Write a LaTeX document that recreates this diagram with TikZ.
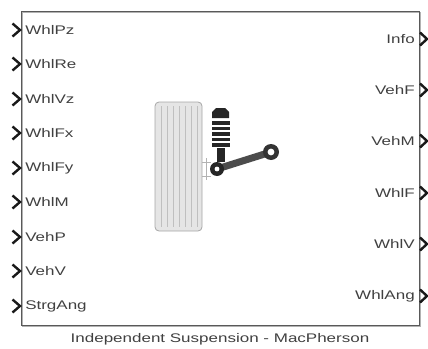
\documentclass[tikz,border=0pt]{standalone}
\usepackage{fontspec}
\setmainfont{Liberation Sans}
\usepackage{xcolor}

\tikzset{
  port/.style={font=\fontsize{12.5}{14}\selectfont, text=black!75, inner sep=0pt, xscale=1.36},
  chev/.style={line width=2.4pt, black!90, line join=miter},
  groove/.style={gray!50, line width=0.5pt}
}

\begin{document}
\begin{tikzpicture}[x=1pt, y=-1pt]
  \useasboundingbox (0,0) rectangle (428,348);
  % Block with shadow
  \draw[gray!60, line width=1.2pt] (22.5,12.5) rectangle (420.5,326.5);
  \node[draw=black!65, line width=1pt, minimum width=398pt, minimum height=314pt,
        inner sep=0pt, anchor=north west] (blk) at (21,11) {};
  % Input ports
  \foreach \name/\y in {WhlPz/30, WhlRe/64, WhlVz/99, WhlFx/133, WhlFy/168,
                        WhlM/202, VehP/237, VehV/271, StrgAng/306} {
    \draw[chev] (12.5,\y-6.5) -- (20,\y) -- (12.5,\y+6.5);
    \node[port, anchor=west] (in-\name) at (25,\y) {\name};
  }
  % Output ports
  \foreach \name/\y in {Info/39, VehF/90, VehM/141, WhlF/193, WhlV/244, WhlAng/296} {
    \draw[chev] (420,\y-6.5) -- (427,\y) -- (420,\y+6.5);
    \node[port, anchor=east] (out-\name) at (415,\y) {\name};
  }
  % Caption
  \node[port] (cap) at (220,339) {Independent Suspension - MacPherson};

  % Tire
  \draw[gray!70, fill=gray!20, rounded corners=4pt, line width=0.8pt] (155,102) rectangle (202,231);
  \foreach \x in {161,167,173,179,185,191,197}
    \draw[groove] (\x,106) -- (\x,227);
  % Hub bracket
  \draw[gray!60, line width=0.7pt] (202,162) -- (211,162) (202,176) -- (211,176)
    (206,158) -- (206,180);
  % Strut top mount
  \fill[black!85] (212,118) -- (212,112) -- (216,108) -- (225,108) -- (229,112) -- (229,118) -- cycle;
  % Spring coils
  \foreach \y in {123,128.5,134,139.5,145}
    \fill[black!85] (211.5,\y-1.7) rectangle (229.5,\y+1.7);
  % Damper rod
  \fill[black!85] (216.5,148) rectangle (224.5,162);
  % Lower control arm
  \draw[black!70, line width=7pt] (217,169) -- (271,152);
  \fill[black!80] (271,152) circle (8);
  \fill[white] (271,152) circle (3.4);
  \fill[black!85] (217,169) circle (7);
  \fill[white] (217,169) circle (2.4);
\end{tikzpicture}
\end{document}
